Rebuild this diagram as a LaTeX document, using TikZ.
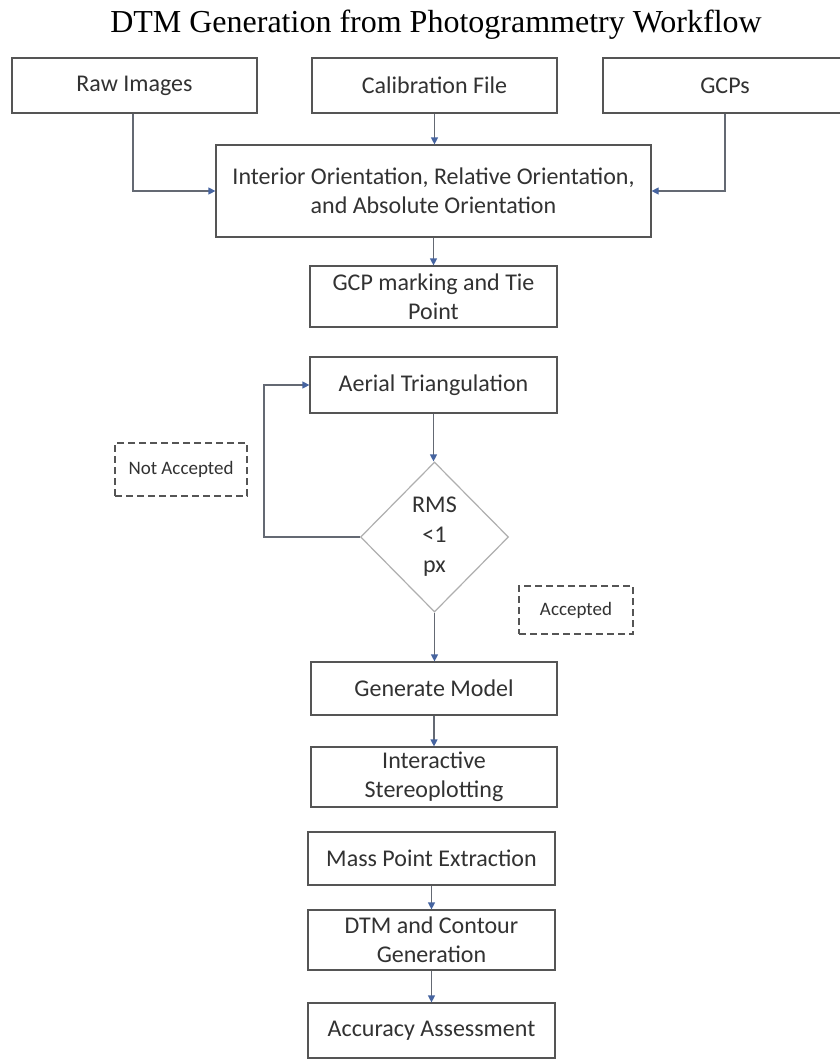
\documentclass[tikz,border=0pt]{standalone}
\usepackage{fontspec}
\setmainfont{Carlito}
\newfontfamily\titlefont{Liberation Serif}
\usetikzlibrary{shapes.geometric,arrows.meta}
\definecolor{boxline}{RGB}{85,85,85}
\definecolor{connc}{RGB}{100,105,115}
\definecolor{tipblue}{RGB}{70,100,160}
\definecolor{diamline}{RGB}{175,175,175}
\definecolor{txt}{RGB}{50,50,50}
\begin{document}
\begin{tikzpicture}[x=1pt,y=-1pt,
 proc/.style={draw=boxline, line width=1.2pt, rectangle, inner sep=0pt, align=center,
   font=\fontsize{24}{29}\selectfont, text=txt},
 note/.style={draw=boxline, dash pattern=on 7pt off 4pt, line width=1.2pt, inner sep=0pt,
   font=\fontsize{19}{22}\selectfont, text=txt},
 decision/.style={diamond, draw=diamline, line width=1.2pt, inner sep=0pt, align=center,
   font=\fontsize{24}{30}\selectfont, text=txt},
 connector/.style={draw=connc, line width=1.2pt, -{Triangle[length=7pt,width=7pt,color=tipblue]}},
 ]
\useasboundingbox (0,0) rectangle (840,1061);
\fill[white] (0,0) rectangle (840,1061);

\node[font=\titlefont\fontsize{32}{38}\selectfont, anchor=base] (title) at (436,32)
  {DTM Generation from Photogrammetry Workflow};

\node[proc, minimum width=245pt, minimum height=55pt] (raw) at (134.5,85.5) {Raw Images};
\node[proc, minimum width=245pt, minimum height=55pt] (calib) at (434.5,85.5) {Calibration File};
\node[proc, minimum width=244pt, minimum height=55pt] (gcps) at (725,85.5) {GCPs};

\node[proc, minimum width=435pt, minimum height=92pt] (interior) at (433.5,191)
  {Interior Orientation, Relative Orientation,\\and Absolute Orientation};
\node[proc, minimum width=247pt, minimum height=61pt] (gcpmark) at (433.5,296.5)
  {GCP marking and Tie\\Point};
\node[proc, minimum width=247pt, minimum height=56pt] (aerial) at (433.5,385) {Aerial Triangulation};

\node[decision, minimum width=148pt, minimum height=150pt] (rms) at (434.5,537) {RMS\\<1\\px};

\node[note, minimum width=132pt, minimum height=53pt] (notacc) at (181,469.5) {Not Accepted};
\node[note, minimum width=114pt, minimum height=48pt] (acc) at (576,610) {Accepted};

\node[proc, minimum width=246pt, minimum height=53pt] (genmodel) at (434,688.5) {Generate Model};
\node[proc, minimum width=246pt, minimum height=60pt] (interactive) at (434,777)
  {Interactive\\Stereoplotting};
\node[proc, minimum width=247pt, minimum height=53pt] (masspoint) at (431.5,858.5) {Mass Point Extraction};
\node[proc, minimum width=247pt, minimum height=60pt] (dtm) at (431.5,940)
  {DTM and Contour\\Generation};
\node[proc, minimum width=247pt, minimum height=55pt] (accuracy) at (431.5,1030.5) {Accuracy Assessment};

\coordinate (loop) at (264,537);

\draw[connector] (calib.south) -- (calib.south |- interior.north);
\draw[connector] ([xshift=-1.5pt]raw.south) |- (interior.west);
\draw[connector] (gcps.south) |- (interior.east);
\draw[connector] (interior.south) -- (gcpmark.north);
\draw[connector] (aerial.south) -- (aerial.south |- rms.north);
\draw[connector] (rms.west) -- (loop) |- (aerial.west);
\draw[connector] (rms.south) -- (rms.south |- genmodel.north);
\draw[connector] (genmodel.south) -- (genmodel.south |- interactive.north);
\draw[connector] (masspoint.south) -- (dtm.north);
\draw[connector] (dtm.south) -- (accuracy.north);
\end{tikzpicture}
\end{document}
